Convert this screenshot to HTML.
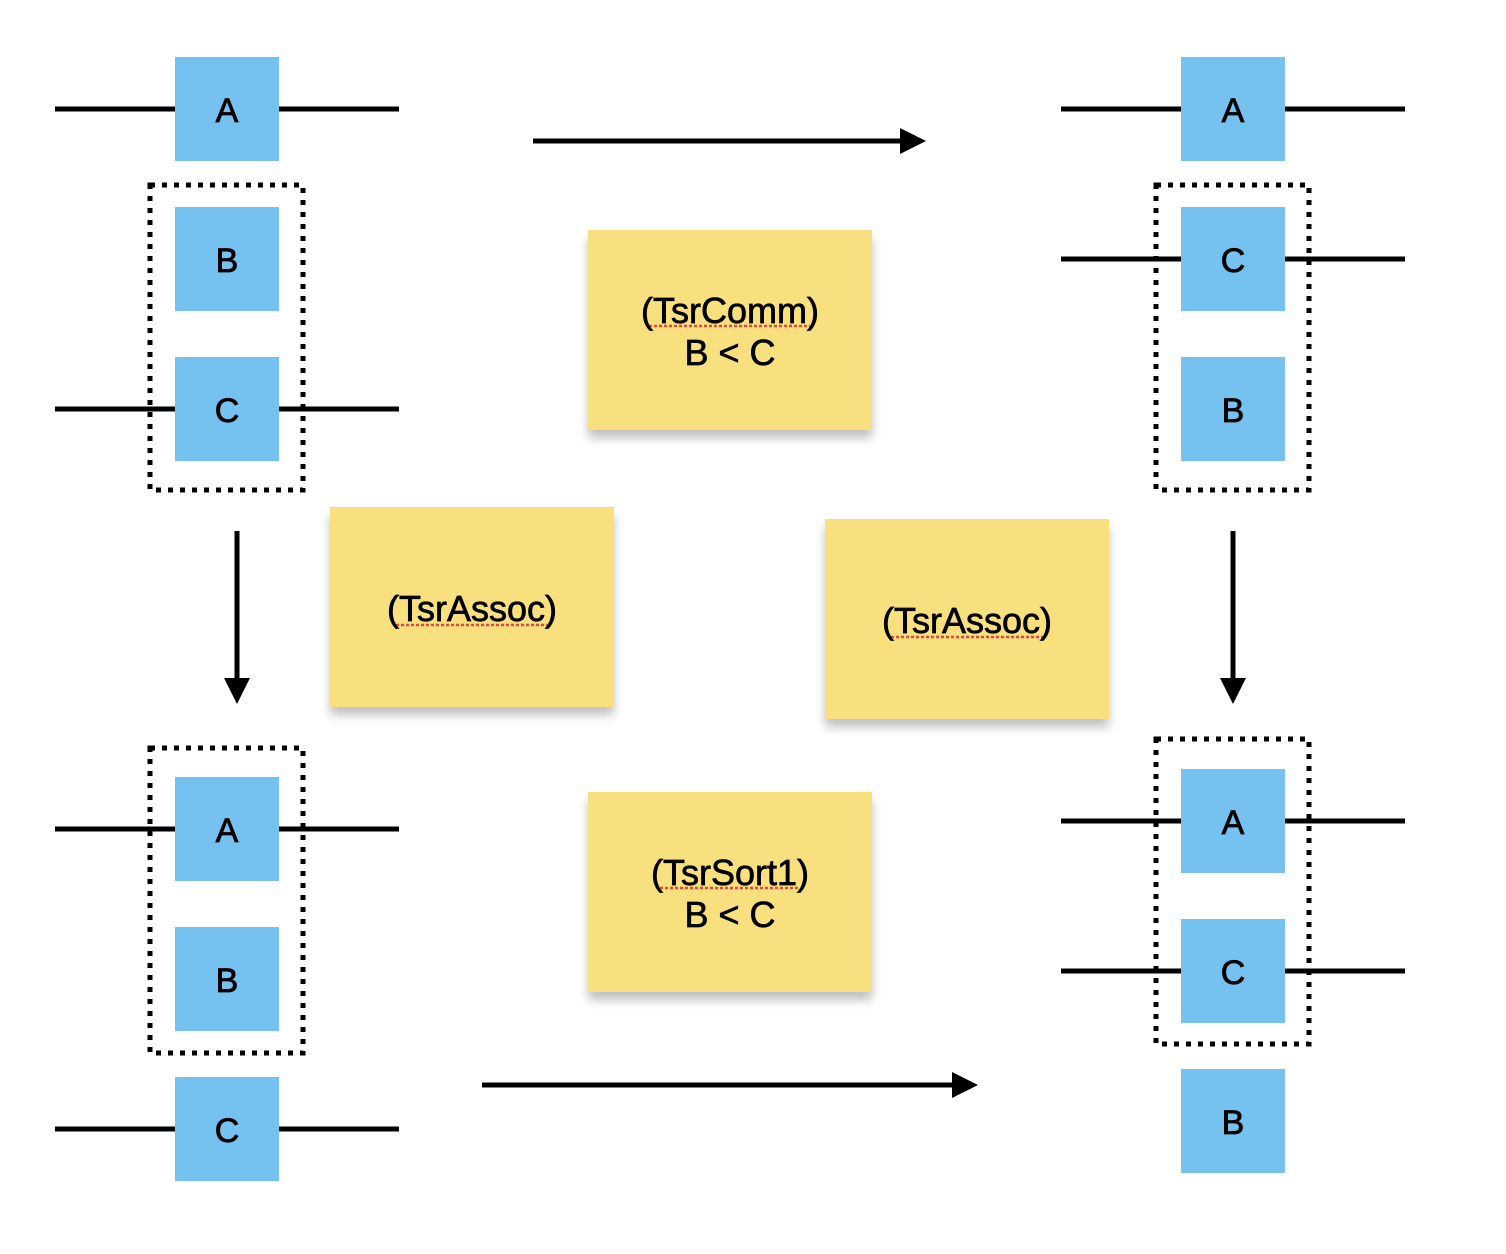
<!DOCTYPE html>
<html><head><meta charset="utf-8"><style>
html,body{margin:0;padding:0;background:#fff;}
svg{display:block;}
text{font-family:"Liberation Sans","DejaVu Sans",sans-serif;}
</style></head><body>
<svg width="1506" height="1254" viewBox="0 0 1506 1254" xmlns="http://www.w3.org/2000/svg">
<defs>
<filter id="sh" x="-10%" y="-10%" width="120%" height="140%">
<feGaussianBlur in="SourceAlpha" stdDeviation="5"/>
<feOffset dx="0" dy="8"/>
<feComponentTransfer><feFuncA type="linear" slope="0.25"/></feComponentTransfer>
<feMerge><feMergeNode/><feMergeNode in="SourceGraphic"/></feMerge>
</filter>
</defs>
<g stroke="#000" stroke-width="5" fill="none" stroke-dasharray="5 7">
<rect x="150" y="185" width="153" height="305"/>
<rect x="1156" y="185" width="153" height="305"/>
<rect x="150" y="748" width="153" height="305"/>
<rect x="1156" y="739" width="153" height="305"/>
</g>
<g stroke="#000" stroke-width="5">
<line x1="55" y1="109" x2="399" y2="109"/>
<line x1="55" y1="409" x2="399" y2="409"/>
<line x1="1061" y1="109" x2="1405" y2="109"/>
<line x1="1061" y1="259" x2="1405" y2="259"/>
<line x1="55" y1="829" x2="399" y2="829"/>
<line x1="55" y1="1129" x2="399" y2="1129"/>
<line x1="1061" y1="821" x2="1405" y2="821"/>
<line x1="1061" y1="971" x2="1405" y2="971"/>
</g>
<g fill="#75C1F0">
<rect x="175" y="57" width="104" height="104"/>
<rect x="175" y="207" width="104" height="104"/>
<rect x="175" y="357" width="104" height="104"/>
<rect x="1181" y="57" width="104" height="104"/>
<rect x="1181" y="207" width="104" height="104"/>
<rect x="1181" y="357" width="104" height="104"/>
<rect x="175" y="777" width="104" height="104"/>
<rect x="175" y="927" width="104" height="104"/>
<rect x="175" y="1077" width="104" height="104"/>
<rect x="1181" y="769" width="104" height="104"/>
<rect x="1181" y="919" width="104" height="104"/>
<rect x="1181" y="1069" width="104" height="104"/>
</g>
<g font-size="34" text-anchor="middle" fill="#000" stroke="#000" stroke-width="0.8">
<text x="227" y="122">A</text><text x="227" y="272">B</text><text x="227" y="422">C</text>
<text x="1233" y="122">A</text><text x="1233" y="272">C</text><text x="1233" y="422">B</text>
<text x="227" y="842">A</text><text x="227" y="992">B</text><text x="227" y="1142">C</text>
<text x="1233" y="834">A</text><text x="1233" y="984">C</text><text x="1233" y="1134">B</text>
</g>
<g stroke="#000" stroke-width="5">
<line x1="533" y1="141" x2="902" y2="141"/>
<line x1="482" y1="1085" x2="954" y2="1085"/>
<line x1="237" y1="531" x2="237" y2="680"/>
<line x1="1233" y1="531" x2="1233" y2="680"/>
</g>
<g fill="#000">
<polygon points="900,128 926,141 900,154"/>
<polygon points="952,1072 978,1085 952,1098"/>
<polygon points="224,678 250,678 237,704"/>
<polygon points="1220,678 1246,678 1233,704"/>
</g>
<g fill="#F9E07F" filter="url(#sh)">
<rect x="588" y="230" width="284" height="200"/>
<rect x="330" y="507" width="284" height="200"/>
<rect x="825" y="519" width="284" height="200"/>
<rect x="588" y="792" width="284" height="200"/>
</g>
<g stroke="#E8453C" stroke-width="2.5" stroke-dasharray="3 2">
<line x1="649" y1="326" x2="810" y2="326"/>
<line x1="396" y1="625" x2="548" y2="625"/>
<line x1="891" y1="637" x2="1043" y2="637"/>
<line x1="660" y1="888" x2="800" y2="888"/>
</g>
<g font-size="36" text-anchor="middle" fill="#000" stroke="#000" stroke-width="0.7">
<text x="730" y="323">(TsrComm)</text>
<text x="730" y="365">B &lt; C</text>
<text x="472" y="621">(TsrAssoc)</text>
<text x="967" y="633">(TsrAssoc)</text>
<text x="730" y="885">(TsrSort1)</text>
<text x="730" y="927">B &lt; C</text>
</g>
</svg>
</body></html>
